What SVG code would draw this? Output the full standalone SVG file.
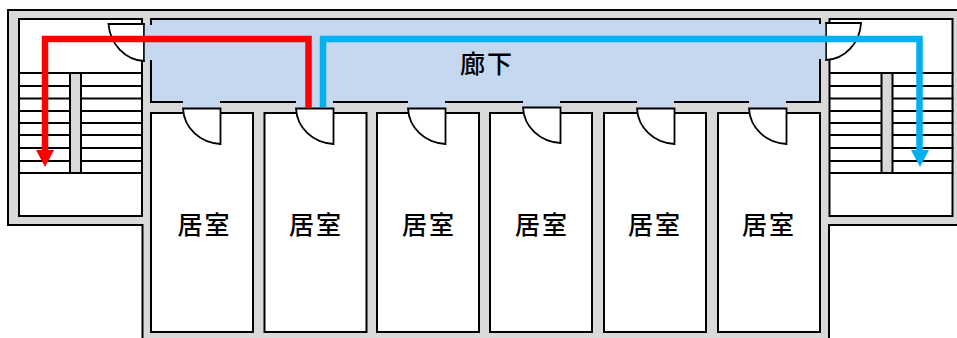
<svg xmlns="http://www.w3.org/2000/svg" width="957" height="338" viewBox="0 0 957 338">
<style>
.wall{fill:#d9d9d9;stroke:#000;stroke-width:2}
.room{fill:#fff;stroke:#000;stroke-width:2}
.hall{fill:#c6d8f0;stroke:#000;stroke-width:2}
.gap{fill:#c6d8f0}
.step{stroke:#000;stroke-width:2;fill:none}
.rail{fill:#d9d9d9;stroke:#000;stroke-width:2}
.door{fill:#fff;stroke:#000;stroke-width:1.8}
.route{fill:none;stroke-width:6.500}
text{font-family:"Noto Sans CJK JP","Noto Sans",sans-serif;font-size:25px;font-weight:500;letter-spacing:2px;text-anchor:middle;fill:#000}
</style>
<defs>
<path id="rdoor" class="door" d="M183 108.500H220.500V144C200 143 184 128 183 108.500Z"/>
<g id="steps">
<path class="step" d="M0 73H124M0 86H124M0 98.500H124M0 111H124M0 123H124M0 135H124M0 148H124M0 161H124M0 173H124"/>
</g>
</defs>
<g id="building">
<path class="wall" d="M958 10H8V225H142.500V339H829V225H958Z"/>
</g>
<g id="stair-left">
<rect class="room" x="19" y="19" width="123" height="197"/>
<use href="#steps" x="19"/>
<rect class="rail" x="70" y="73" width="11" height="100"/>
<path class="door" d="M144 24H108.500C110 44 125 60 144 61Z"/>
</g>
<g id="stair-right">
<rect class="room" x="829.500" y="19" width="123" height="197"/>
<use href="#steps" x="829.500"/>
<rect class="rail" x="881.500" y="73" width="11" height="100"/>
<path class="door" d="M826 23H861C860 43 845 59 826 60Z"/>
</g>
<g id="corridor">
<rect class="hall" x="151" y="19" width="669" height="83"/>
<rect class="gap" x="144.800" y="25" width="7.200" height="35"/>
<rect class="gap" x="819" y="24" width="6.300" height="35"/>
<rect class="gap" x="183" y="101" width="37" height="7"/>
<rect class="gap" x="296" y="101" width="37" height="7"/>
<rect class="gap" x="408" y="101" width="37" height="7"/>
<rect class="gap" x="523" y="101" width="37" height="7"/>
<rect class="gap" x="637" y="101" width="37" height="7"/>
<rect class="gap" x="749" y="101" width="37" height="7"/>
<text x="487" y="73">廊下</text>
</g>
<g id="room-1"><rect class="room" x="151" y="113" width="102" height="219"/><use href="#rdoor"/><text x="204.500" y="234">居室</text></g>
<g id="room-2"><rect class="room" x="264.500" y="113" width="102" height="219"/><use href="#rdoor" x="113"/><text x="316" y="234">居室</text></g>
<g id="room-3"><rect class="room" x="377" y="113" width="102" height="219"/><use href="#rdoor" x="225"/><text x="429" y="234">居室</text></g>
<g id="room-4"><rect class="room" x="490" y="113" width="102" height="219"/><use href="#rdoor" x="340" y="-1"/><text x="542" y="234">居室</text></g>
<g id="room-5"><rect class="room" x="604" y="113" width="102" height="219"/><use href="#rdoor" x="454"/><text x="655" y="234">居室</text></g>
<g id="room-6"><rect class="room" x="718" y="113" width="102" height="219"/><use href="#rdoor" x="566"/><text x="769" y="234">居室</text></g>
<g id="connectors">
<path class="route" stroke="#ff0000" d="M308.500 108V39H45V152"/>
<polygon fill="#ff0000" points="36,150 54,150 45,167"/>
<path class="route" stroke="#00b0f0" d="M323 107V39H919.500V152"/>
<polygon fill="#00b0f0" points="911,150 929,150 920,167"/>
</g>
</svg>
